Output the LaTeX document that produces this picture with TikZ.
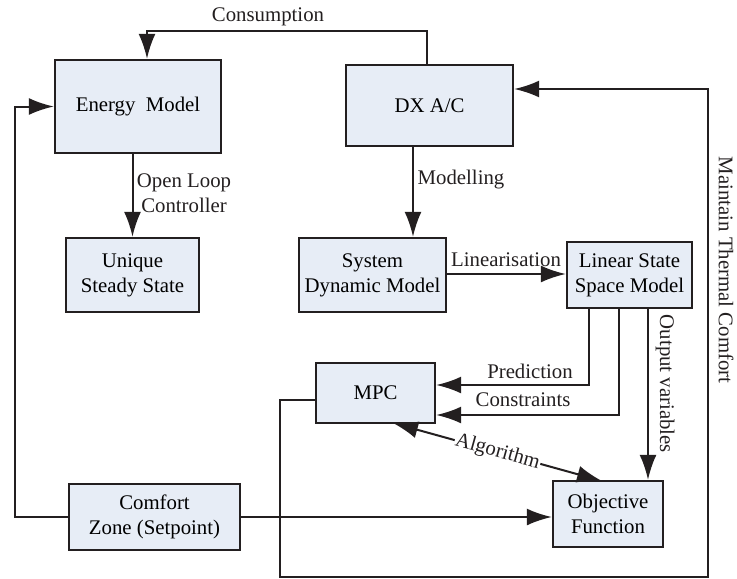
\documentclass[tikz,border=0pt]{standalone}
\usepackage{fontspec}
\setmainfont{Liberation Serif}
\usetikzlibrary{arrows.meta}
\definecolor{boxfill}{RGB}{231,237,246}
\definecolor{ink}{RGB}{35,31,32}
\tikzset{
  blk/.style={draw=ink, line width=1.2pt, fill=boxfill, align=center, inner sep=1pt, font=\fontsize{10.4}{12.5}\selectfont},
  tip/.style={Latex[length=12.5pt,width=8.5pt]},
  arr/.style={draw=ink, line width=1pt, -{Latex[length=12.5pt,width=8.5pt]}},
  ln/.style={draw=ink, line width=1pt},
  lbl/.style={font=\fontsize{10.4}{12.5}\selectfont, inner sep=1pt, align=center, text=ink}
}
\begin{document}
\begin{tikzpicture}[x=0.5pt,y=-0.5pt]
\useasboundingbox (0,0) rectangle (737,578);
% nodes
\node[blk, minimum width=83pt, minimum height=46.5pt] (energy) at (138,106.5) {Energy\ \ Model};
\node[blk, minimum width=83.5pt, minimum height=40.5pt] (dx) at (429.5,105.5) {DX A/C};
\node[blk, minimum width=66.5pt, minimum height=37pt] (unique) at (132.5,275) {Unique\\Steady State};
\node[blk, minimum width=73.5pt, minimum height=37pt] (sys) at (372.5,275) {System\\Dynamic Model};
\node[blk, minimum width=62.5pt, minimum height=33pt] (lss) at (629.5,275) {Linear State\\Space Model};
\node[blk, minimum width=59.5pt, minimum height=30pt] (mpc) at (375.5,393) {MPC};
\node[blk, minimum width=55pt, minimum height=33pt] (obj) at (608,514) {Objective\\Function};
\node[blk, minimum width=85.5pt, minimum height=33pt] (comfort) at (154.5,517) {Comfort\\Zone (Setpoint)};
% guide coordinates
\coordinate (gcons) at (427,31);
\coordinate (gcons2) at (147,31);
\coordinate (gleft) at (15,517);
\coordinate (gmod) at (413,0);
\coordinate (gpred) at (589,385);
\coordinate (gcons3) at (619,415);
\coordinate (gout) at (648,0);
\coordinate (galgA) at (393,423);
\coordinate (galgB) at (602,481);
\coordinate (gm1) at (280,400);
\coordinate (gm2) at (280,577);
\coordinate (gm3) at (708,577);
\coordinate (gm4) at (708,89);
% connectors
\draw[arr] (dx.north -| gcons) -- (gcons) -- (gcons2) -- (energy.north -| gcons2);
\node[lbl] (tcons) at (268,17) {Consumption};
\draw[arr] (comfort.west) -- (gleft) |- (energy.west);
\draw[arr] (energy.south -| unique.north) -- (unique.north);
\node[lbl] (topen) at (184,193) {Open Loop\\Controller};
\draw[arr] (dx.south -| gmod) -- (sys.north -| gmod);
\node[lbl] (tmod) at (461,180) {Modelling};
\draw[arr] (sys.east |- 0,274) -- (lss.west |- 0,274);
\node[lbl] (tlin) at (506,260) {Linearisation};
\draw[arr] (lss.south -| gpred) -- (gpred) -- (mpc.east |- gpred);
\node[lbl] (tpred) at (530,371) {Prediction};
\draw[arr] (lss.south -| gcons3) -- (gcons3) -- (mpc.east |- gcons3);
\node[lbl] (tconstr) at (523,400) {Constraints};
\draw[arr] (lss.south -| gout) -- (obj.north -| gout);
\node[lbl, rotate=-90] (tout) at (665,384) {Output variables};
\draw[ln, {Latex[length=12.5pt,width=8.5pt]}-{Latex[length=12.5pt,width=8.5pt]}] (galgA) -- node[lbl, sloped, fill=white, inner sep=0.5pt] (talg) {Algorithm} (galgB);
\draw[arr] (comfort.east) -- (obj.west |- comfort.east);
\draw[arr] (mpc.west |- gm1) -- (gm1) -- (gm2) -- (gm3) -- (gm4) -- (dx.east |- gm4);
\node[lbl, rotate=-90] (tmain) at (726,270) {Maintain Thermal Comfort};
\end{tikzpicture}
\end{document}
